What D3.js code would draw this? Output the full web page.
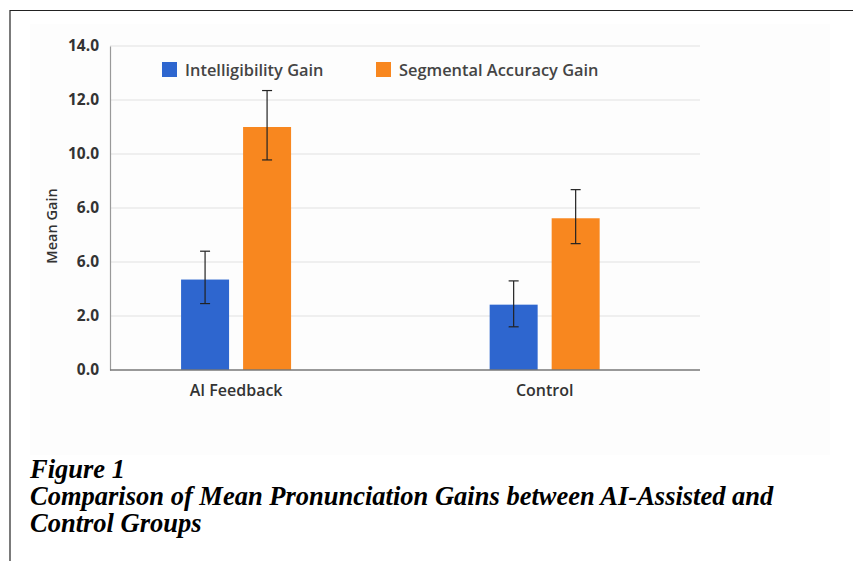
<!DOCTYPE html>
<html>
<head>
<meta charset="utf-8">
<script src="https://cdn.jsdelivr.net/npm/d3@7"></script>
<style>
  body { margin: 0; background: #fff; }
  svg { display: block; }
</style>
</head>
<body>
<svg id="chart"></svg>
<script>
// data
const groups = ['AI Feedback', 'Control'];
const series = ['Intelligibility Gain', 'Segmental Accuracy Gain'];
const intelligibility = [3.35, 2.42];
const intelligibilityLow = [2.46, 1.6];
const intelligibilityHigh = [4.4, 3.3];
const segmental = [9.0, 5.62];
const segmentalLow = [7.78, 4.68];
const segmentalHigh = [10.35, 6.68];
const tickValues = [0, 2, 4, 6, 8, 10, 12];
const tickLabels = ['0.0', '2.0', '6.0', '6.0', '10.0', '12.0', '14.0'];
const captionLines = ['Figure 1', 'Comparison of Mean Pronunciation Gains between AI-Assisted and', 'Control Groups'];

const colors = { 'Intelligibility Gain': '#2e66cf', 'Segmental Accuracy Gain': '#f8871f' };

const width = 853, height = 561;
const margin = { top: 46, right: 153, bottom: 191, left: 110 };

const svg = d3.select('#chart').attr('width', width).attr('height', height);

// page frame
svg.append('rect').attr('x', 30).attr('y', 24).attr('width', 800).attr('height', 431).attr('fill', '#fdfdfd');
svg.append('line').attr('x1', 10).attr('x2', width).attr('y1', 10.5).attr('y2', 10.5).attr('stroke', '#222').attr('stroke-width', 1.2);
svg.append('line').attr('x1', 10).attr('x2', 10).attr('y1', 10).attr('y2', height).attr('stroke', '#222').attr('stroke-width', 1.2);

const chart = svg.append('g').attr('transform', `translate(${margin.left}, ${margin.top})`);
const innerWidth = width - margin.left - margin.right;
const innerHeight = height - margin.top - margin.bottom;

const x0 = d3.scalePoint().domain(groups).range([0, innerWidth]).padding(0.456).align(0.448);
const x1 = d3.scaleBand().domain(series).range([-55, 55]).paddingInner(0.226).paddingOuter(0);
const y = d3.scaleLinear().domain([0, 12]).range([innerHeight, 0]);

// gridlines
chart.append('g').selectAll('line').data(tickValues.slice(1)).join('line')
  .attr('x1', 0).attr('x2', innerWidth)
  .attr('y1', d => y(d)).attr('y2', d => y(d))
  .attr('stroke', '#e2e2e2').attr('stroke-width', 1.2);

// y axis
const yAxis = chart.append('g')
  .call(d3.axisLeft(y).tickValues(tickValues).tickSize(0).tickPadding(11).tickFormat((d, i) => tickLabels[i]));
yAxis.select('.domain').attr('stroke', '#999').attr('stroke-width', 1.2);
yAxis.selectAll('text').attr('font-family', 'Open Sans').attr('font-weight', 700).attr('font-size', 15.5).attr('fill', '#333');

// bars
const rows = groups.map((g, i) => [
  { group: g, key: series[0], value: intelligibility[i], lo: intelligibilityLow[i], hi: intelligibilityHigh[i] },
  { group: g, key: series[1], value: segmental[i], lo: segmentalLow[i], hi: segmentalHigh[i] }
]).flat();

chart.selectAll('rect.bar').data(rows).join('rect')
  .attr('class', 'bar')
  .attr('x', d => x0(d.group) + x1(d.key))
  .attr('width', x1.bandwidth())
  .attr('y', d => y(d.value))
  .attr('height', d => y(0) - y(d.value))
  .attr('fill', d => colors[d.key]);

// error bars
const err = chart.selectAll('g.err').data(rows).join('g')
  .attr('class', 'err')
  .attr('transform', d => `translate(${x0(d.group) + x1(d.key) + x1.bandwidth() / 2}, 0)`);
err.append('line').attr('y1', d => y(d.lo)).attr('y2', d => y(d.hi));
err.append('line').attr('x1', -5).attr('x2', 5).attr('y1', d => y(d.hi)).attr('y2', d => y(d.hi));
err.append('line').attr('x1', -5).attr('x2', 5).attr('y1', d => y(d.lo)).attr('y2', d => y(d.lo));
err.selectAll('line').attr('stroke', '#222').attr('stroke-width', 1.2);

// baseline
chart.append('line').attr('x1', 0).attr('x2', innerWidth).attr('y1', y(0)).attr('y2', y(0))
  .attr('stroke', '#777').attr('stroke-width', 1.6);

// x labels
chart.selectAll('text.xlab').data(groups).join('text')
  .attr('class', 'xlab')
  .attr('x', d => x0(d)).attr('y', innerHeight + 26)
  .attr('text-anchor', 'middle')
  .attr('font-family', 'Open Sans').attr('font-weight', 600).attr('font-size', 16).attr('fill', '#333')
  .text(d => d);

// y title
svg.append('text')
  .attr('transform', 'translate(57, 226) rotate(-90)')
  .attr('text-anchor', 'middle')
  .attr('font-family', 'Open Sans').attr('font-weight', 600).attr('font-size', 14.5).attr('fill', '#333')
  .text('Mean Gain');

// legend
const legendX = [52, 266];
const legend = chart.selectAll('g.legend').data(series).join('g')
  .attr('class', 'legend')
  .attr('transform', (d, i) => `translate(${legendX[i]}, 16)`);
legend.append('rect').attr('width', 15).attr('height', 15).attr('fill', d => colors[d]);
legend.append('text').attr('x', 23).attr('y', 13.5)
  .attr('font-family', 'Open Sans').attr('font-weight', 600).attr('font-size', 16.4).attr('fill', '#444')
  .text(d => d);

// caption
svg.append('g').selectAll('text').data(captionLines).join('text')
  .attr('x', 30).attr('y', (d, i) => 478 + i * 27)
  .attr('font-family', 'Liberation Serif').attr('font-style', 'italic').attr('font-weight', 'bold')
  .attr('font-size', 26.5).attr('fill', '#000')
  .text(d => d);
</script>
</body>
</html>
